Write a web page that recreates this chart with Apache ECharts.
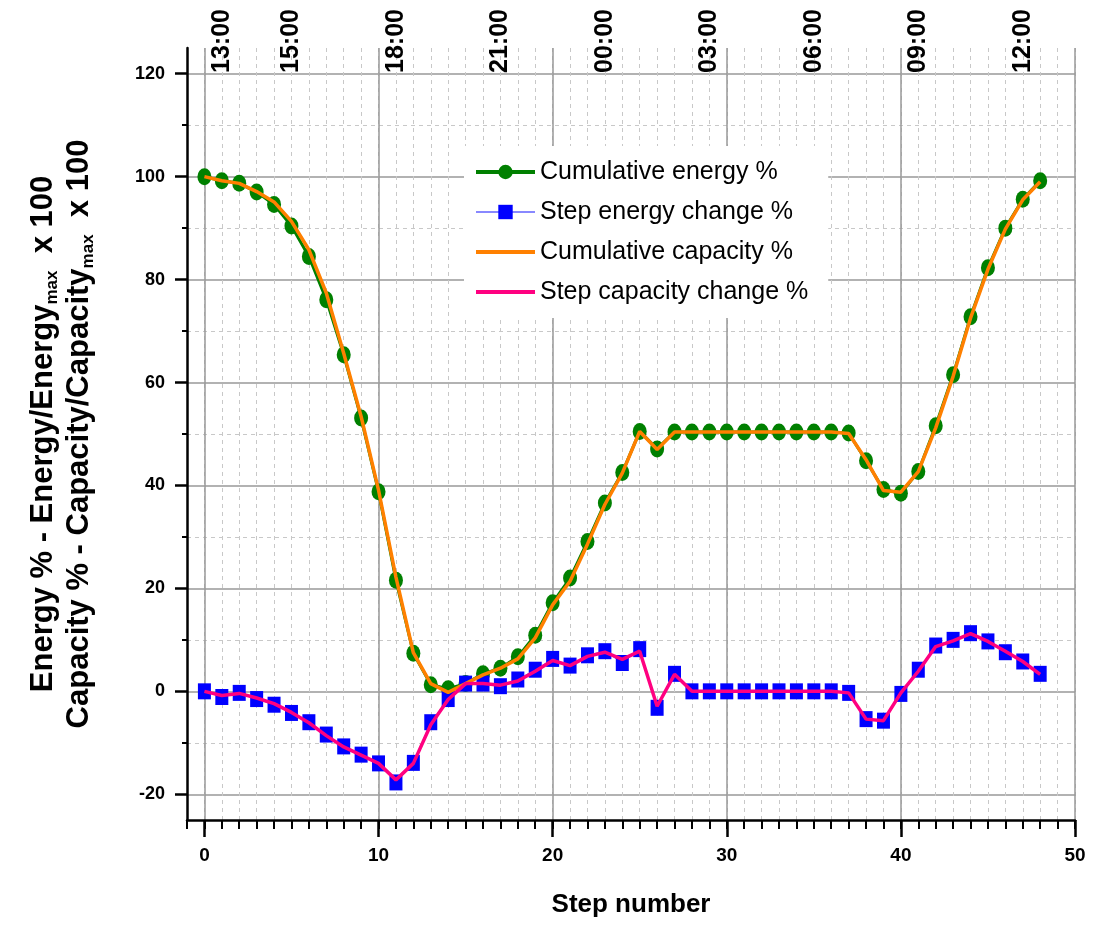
<!DOCTYPE html>
<html>
<head>
<meta charset="utf-8">
<title>Energy and capacity per step</title>
<script src="https://cdn.jsdelivr.net/npm/echarts@6/dist/echarts.min.js"></script>
<style>
  html, body { margin: 0; background: #fff; }
  #chart { width: 1104px; height: 927px; }
</style>
</head>
<body>
<div id="chart"></div>
<script>
// step numbers
var steps = [0, 1, 2, 3, 4, 5, 6, 7, 8, 9, 10, 11, 12, 13, 14, 15, 16, 17, 18, 19, 20,
  21, 22, 23, 24, 25, 26, 27, 28, 29, 30, 31, 32, 33, 34, 35, 36, 37, 38, 39, 40,
  41, 42, 43, 44, 45, 46, 47, 48];

var cumEnergy = [100, 99.2, 98.7, 97, 94.6, 90.4, 84.5, 76.1, 65.4, 53.1, 38.8,
  21.6, 7.4, 1.3, 0.5, 1.5, 3.4, 4.5, 6.7, 10.9, 17.2, 22, 29.1, 36.6, 42.5, 50.5,
  47.1, 50.4, 50.4, 50.4, 50.4, 50.4, 50.4, 50.4, 50.4, 50.4, 50.4, 50.2, 44.8,
  39.2, 38.5, 42.7, 51.6, 61.5, 72.8, 82.3, 90, 95.6, 99.2];

var stepEnergy = [0, -1.1, -0.3, -1.5, -2.6, -4.2, -6, -8.4, -10.7, -12.3, -14,
  -17.7, -13.9, -6, -1.5, 1.5, 1.5, 1, 2.3, 4.2, 6.3, 5, 7, 7.8, 5.5, 8.2, -3.2,
  3.4, 0, 0, 0, 0, 0, 0, 0, 0, 0, -0.3, -5.4, -5.7, -0.5, 4.2, 8.9, 10, 11.3,
  9.7, 7.6, 5.8, 3.4];

var cumCapacity = [100, 99.2, 98.7, 97.1, 95.1, 91.3, 85.8, 77.4, 65.7, 53.4, 39.1,
  22.2, 7.5, 1.5, -0.2, 1.5, 3.2, 4.5, 6.3, 10.4, 16.8, 21.4, 28.6, 36.3, 42.4,
  50.5, 47, 50.4, 50.4, 50.4, 50.4, 50.4, 50.4, 50.4, 50.4, 50.4, 50.4, 50.1, 45,
  39, 38.7, 42.7, 51.2, 61.2, 72.5, 82, 89.8, 95.5, 99];

var stepCapacity = [0, -0.8, -0.4, -1.3, -2.4, -4.1, -6.1, -8.6, -10.8, -12.4, -14,
  -17.2, -14, -6.5, -1.6, 1.5, 1.5, 1.2, 2, 3.9, 6, 5, 6.8, 7.6, 6.2, 7.8, -2.9,
  3.3, 0, 0, 0, 0, 0, 0, 0, 0, 0, -0.3, -5.4, -5.7, -0.3, 3.9, 8.7, 9.8, 11.2,
  9.7, 7.8, 5.8, 3.3];

// tick values / labels
var xMajor = [0, 10, 20, 30, 40, 50];
var yMajor = [-20, 0, 20, 40, 60, 80, 100, 120];
var yMinor = [-10, 10, 30, 50, 70, 90, 110];
var timeSteps = [1, 5, 11, 17, 23, 29, 35, 41, 47];
var timeLabels = ["13:00", "15:00", "18:00", "21:00", "00:00", "03:00", "06:00", "09:00", "12:00"];

var FONT = "'Liberation Sans', Arial, sans-serif";
// plain line icon for the series drawn without markers
var LINE_ICON = "path://M0,0H60V4H0Z";

function pairs(vals) {
  var out = [];
  for (var i = 0; i < steps.length; i++) {
    out.push([steps[i], vals[i]]);
  }
  return out;
}

var chart = echarts.init(document.getElementById("chart"));

var option = {
  animation: false,
  backgroundColor: "#fff",
  textStyle: { fontFamily: FONT },
  grid: {
    left: 187,
    right: 29,
    top: 48,
    bottom: 107,
    containLabel: false,
    outerBoundsMode: "none"
  },
  legend: {
    orient: "vertical",
    left: 464,
    top: 146,
    padding: [12, 20, 12, 10],
    backgroundColor: "#fff",
    itemWidth: 59,
    itemHeight: 18,
    itemGap: 12,
    textStyle: { fontSize: 25, color: "#000", fontFamily: FONT, lineHeight: 28 },
    data: [
      { name: "Cumulative energy %", lineStyle: { width: 4 } },
      { name: "Step energy change %", lineStyle: { width: 1.5 } },
      { name: "Cumulative capacity %", icon: LINE_ICON },
      { name: "Step capacity change %", icon: LINE_ICON }
    ]
  },
  xAxis: [
    {
      // one dashed line and short tick per step
      type: "value",
      min: -1,
      max: 50,
      interval: 1,
      position: "bottom",
      axisLine: { show: true, onZero: false, lineStyle: { color: "#000", width: 2.5 } },
      axisTick: { show: true, length: 9, lineStyle: { color: "#000", width: 2 } },
      axisLabel: { show: false },
      splitLine: { show: true, lineStyle: { color: "#c8c8c8", width: 1, type: [4, 4] } }
    },
    {
      // major ticks every 10
      type: "value",
      min: -1,
      max: 50,
      position: "bottom",
      axisLine: { show: false, onZero: false },
      axisTick: { show: true, customValues: xMajor, length: 17, lineStyle: { color: "#000", width: 2.5 } },
      axisLabel: {
        customValues: xMajor,
        margin: 26,
        fontSize: 19,
        fontWeight: "bold",
        color: "#000",
        fontFamily: FONT
      },
      splitLine: { show: true, lineStyle: { color: "#999", width: 1.5 } },
      name: "Step number",
      nameLocation: "middle",
      nameGap: 72,
      nameTextStyle: { fontSize: 26, fontWeight: "bold", color: "#000", fontFamily: FONT }
    },
    {
      // clock time on top
      type: "value",
      min: -1,
      max: 50,
      position: "top",
      offset: -25,
      axisLine: { show: false, onZero: false },
      axisTick: { show: false },
      splitLine: { show: false },
      axisLabel: {
        customValues: timeSteps,
        rotate: -90,
        margin: 0,
        fontSize: 25,
        fontWeight: "bold",
        color: "#000",
        fontFamily: FONT,
        formatter: function (v) {
          var i = timeSteps.indexOf(v);
          return i >= 0 ? timeLabels[i] : "";
        }
      }
    }
  ],
  yAxis: [
    {
      type: "value",
      min: -25,
      max: 125,
      position: "left",
      axisLine: { show: true, onZero: false, lineStyle: { color: "#000", width: 2.5 } },
      axisTick: { show: true, customValues: yMajor, length: 12, lineStyle: { color: "#000", width: 2.5 } },
      axisLabel: {
        customValues: yMajor,
        margin: 22,
        fontSize: 18,
        fontWeight: "bold",
        color: "#000",
        fontFamily: FONT
      },
      splitLine: { show: true, lineStyle: { color: "#999", width: 1.5 } },
      name: "{b|Energy % - Energy/Energy}{s|max}{b|  x 100}\n{b|Capacity % - Capacity/Capacity}{s|max}{b|  x 100}",
      nameLocation: "middle",
      nameRotate: 90,
      nameGap: 90,
      nameTextStyle: {
        rich: {
          b: { fontSize: 31, fontWeight: "bold", color: "#000", fontFamily: FONT, lineHeight: 36 },
          s: { fontSize: 17, fontWeight: "bold", color: "#000", fontFamily: FONT, lineHeight: 14, verticalAlign: "bottom" }
        }
      }
    },
    {
      type: "value",
      min: -25,
      max: 125,
      position: "left",
      axisLine: { show: false, onZero: false },
      axisTick: { show: true, customValues: yMinor, length: 5, lineStyle: { color: "#000", width: 2 } },
      axisLabel: { show: false },
      splitLine: { show: true, lineStyle: { color: "#c8c8c8", width: 1, type: [4, 4] } }
    }
  ],
  series: [
    {
      name: "Cumulative energy %",
      type: "line",
      data: pairs(cumEnergy),
      symbol: "circle",
      symbolSize: [14, 17],
      itemStyle: { color: "#008000" },
      lineStyle: { color: "#008000", width: 3 },
      z: 2
    },
    {
      name: "Step energy change %",
      type: "line",
      data: pairs(stepEnergy),
      symbol: "rect",
      symbolSize: [13, 16],
      itemStyle: { color: "#0000ff" },
      lineStyle: { color: "#6060ff", width: 1 },
      z: 2
    },
    {
      name: "Cumulative capacity %",
      type: "line",
      data: pairs(cumCapacity),
      symbol: "none",
      itemStyle: { color: "#ff8000" },
      lineStyle: { color: "#ff8000", width: 3.5 },
      z: 3
    },
    {
      name: "Step capacity change %",
      type: "line",
      data: pairs(stepCapacity),
      symbol: "none",
      itemStyle: { color: "#ff0080" },
      lineStyle: { color: "#ff0080", width: 3.5 },
      z: 3
    }
  ]
};

chart.setOption(option);
</script>
</body>
</html>
